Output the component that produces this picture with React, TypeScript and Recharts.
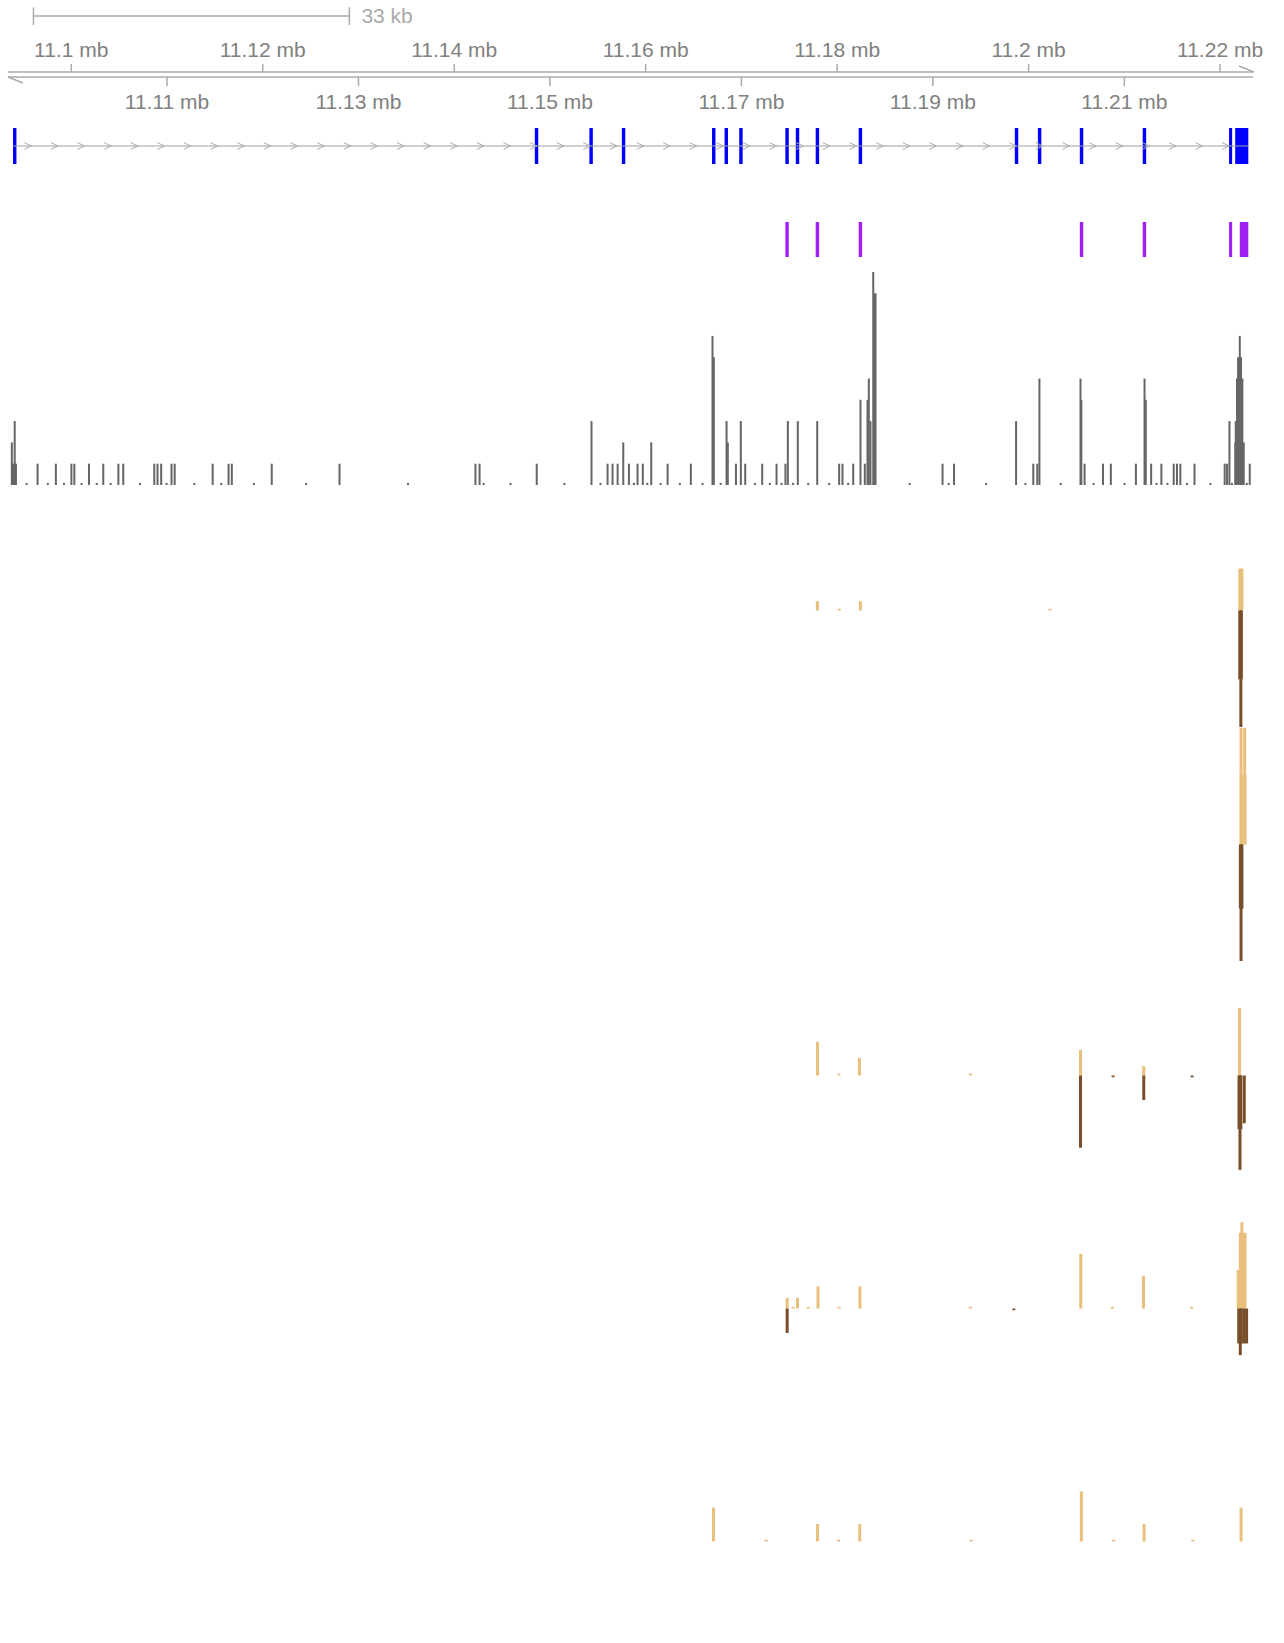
import React from 'react';
import {
  BarChart,
  Bar,
  ComposedChart,
  XAxis,
  YAxis,
  ReferenceArea,
  ReferenceLine,
} from 'recharts';

// genomic window, in kb
const VIEW: [number, number] = [11093.39, 11223.44];
const PAGE_W = 1284;
const PAGE_H = 1643;
const MARGIN = { top: 0, right: 31, bottom: 0, left: 8 };
const FONT = "'Liberation Sans', Arial, Helvetica, sans-serif";

const TAN = '#E8C07C';
const BROWN = '#784E2A';
const GRID_GREY = '#aaaaaa';

const topTicks = [11100, 11120, 11140, 11160, 11180, 11200, 11220];
const bottomTicks = [11110, 11130, 11150, 11170, 11190, 11210];

const scaleBarStart = 11096.05;
const scaleBarKb = 33;

// gene model (blue) and coding blocks (purple)
const exonStart = [
  11093.91, 11148.42, 11154.12, 11157.51, 11166.93, 11168.24, 11169.77, 11174.59, 11175.68,
  11177.76, 11182.25, 11198.56, 11200.97, 11205.35, 11211.92, 11220.94, 11221.58,
];
const exonEnd = [
  11094.27, 11148.78, 11154.48, 11157.87, 11167.29, 11168.6, 11170.13, 11174.95, 11176.04,
  11178.12, 11182.61, 11198.92, 11201.33, 11205.71, 11212.28, 11221.26, 11222.95,
];
const cdsStart = [11174.59, 11177.76, 11182.25, 11205.35, 11211.92, 11220.94, 11222.06];
const cdsEnd = [11174.95, 11178.12, 11182.61, 11205.71, 11212.28, 11221.26, 11222.95];

// read coverage
const covPos = [
  11093.79, 11093.92, 11094.09, 11094.22, 11095.33, 11096.48, 11097.55, 11098.39, 11099.24, 11100.01,
  11100.32, 11101.08, 11101.85, 11102.66, 11103.34, 11104.11, 11104.92, 11105.43, 11107.18, 11108.67,
  11109.01, 11109.39, 11109.95, 11110.47, 11110.8, 11112.85, 11114.77, 11115.67, 11116.43, 11116.77,
  11119.07, 11120.94, 11124.53, 11128.02, 11135.18, 11142.22, 11142.65, 11143.07, 11145.88, 11148.62,
  11151.51, 11154.34, 11155.28, 11156.02, 11156.54, 11157.07, 11157.66, 11158.25, 11158.77, 11159.15,
  11159.7, 11160.16, 11160.58, 11161.55, 11162.29, 11163.57, 11164.72, 11165.94, 11166.98, 11167.12,
  11167.83, 11168.45, 11168.58, 11169.43, 11169.94, 11170.4, 11171.41, 11172.17, 11172.97, 11173.67,
  11174.19, 11174.6, 11174.85, 11175.4, 11175.89, 11176.98, 11177.92, 11179.17, 11180.21, 11180.56,
  11181.15, 11181.68, 11182.44, 11182.89, 11183.17, 11183.31, 11183.48, 11183.77, 11183.86, 11184.01,
  11187.58, 11191.01, 11191.65, 11192.21, 11195.56, 11198.69, 11199.67, 11200.49, 11200.91, 11201.13,
  11203.36, 11205.42, 11205.51, 11205.85, 11206.79, 11207.77, 11208.59, 11210.01, 11211.21, 11212.11,
  11212.24, 11212.8, 11213.36, 11213.87, 11214.5, 11215.16, 11215.5, 11215.85, 11216.55, 11217.33,
  11218.99, 11220.48, 11220.73, 11220.98, 11221.24, 11221.59, 11221.64, 11221.77, 11221.88, 11222.06,
  11222.19, 11222.33, 11222.47, 11222.79, 11223.1,
];
const covDepth = [
  2, 1, 3, 1, 0.1, 1, 0.1, 1, 0.1, 1,
  1, 0.1, 1, 0.1, 1, 0.1, 1, 1, 0.1, 1,
  1, 1, 0.1, 1, 1, 0.1, 1, 0.1, 1, 1,
  0.1, 1, 0.1, 1, 0.1, 1, 1, 0.1, 0.1, 1,
  0.1, 3, 0.1, 1, 1, 1, 2, 1, 0.1, 1,
  1, 0.1, 2, 0.1, 1, 0.1, 1, 0.1, 7, 6,
  0.1, 3, 2, 1, 3, 1, 0.1, 1, 0.1, 1,
  0.1, 1, 3, 0.1, 3, 0.1, 3, 0.1, 1, 1,
  0.1, 1, 4, 1, 4, 5, 3, 10, 9, 9,
  0.1, 1, 0.1, 1, 0.1, 3, 0.1, 1, 1, 5,
  0.1, 5, 4, 1, 0.1, 1, 1, 0.1, 1, 5,
  4, 1, 0.1, 1, 0.1, 1, 1, 1, 0.1, 1,
  0.1, 1, 1, 3, 0.1, 2, 3, 5, 6, 7,
  6, 5, 2, 0.1, 1,
];

// strand-split signal tracks (plus up, minus down)
const sashAPos = [11177.94, 11180.24, 11182.43, 11202.24, 11222.06, 11222.17, 11222.22, 11222.28];
const sashAPlus = [8, 1.5, 8, 1.5, 36, 0, 0, 36];
const sashAMinus = [0, 0, 0, 0, -59, -100, -59, 0];

const sashBPos = [11222.12, 11222.19, 11222.22, 11222.28, 11222.57, 11222.61];
const sashBPlus = [0, 100, 60, 0, 100, 60];
const sashBMinus = [-55, -100, 0, -55, 0, 0];

const sashCPos = [
  11177.95, 11180.18, 11182.33, 11193.92, 11205.42, 11208.82, 11212.03, 11217.08, 11221.98,
  11222.04, 11222.08, 11222.17, 11222.53,
];
const sashCPlus = [29, 1.5, 15, 1.5, 22, 0, 8, 0, 0, 58, 0, 0, 0];
const sashCMinus = [0, 0, 0, 0, -62, -1.5, -21, -1.5, -46, 0, -81, -46, -41];

const sashDPos = [
  11174.78, 11175.4, 11175.86, 11176.98, 11178.0, 11180.21, 11182.38, 11193.92, 11198.46,
  11205.45, 11208.75, 11212.0, 11217.02, 11221.89, 11221.95, 11222.11, 11222.22, 11222.28,
  11222.39, 11222.5, 11222.61, 11222.77,
];
const sashDPlus = [9, 1.5, 9, 1.5, 19, 1.5, 19, 1.5, 0, 47, 1.5, 28, 1.5, 33, 0, 65, 0, 74, 65, 0, 65, 0];
const sashDMinus = [-21, 0, 0, 0, 0, 0, 0, 0, -1.5, 0, 0, 0, 0, 0, -30, -40, -30, 0, 0, -30, 0, -30];

const sashEPos = [
  11167.07, 11172.58, 11177.94, 11180.13, 11182.35, 11193.98, 11205.5, 11208.87, 11212.05,
  11217.13, 11222.18,
];
const sashEPlus = [29, 1.5, 15, 1.5, 15, 1.5, 43, 1.5, 15, 1.5, 29];
const sashEMinus = [0, 0, 0, 0, 0, 0, 0, 0, 0, 0, 0];

const TRACK_H = 233;
const sashBaselines = [610.7, 844, 1075.7, 1308.5, 1541];

const toMb = (v: number) => `${v / 1000} mb`;

// bars keep a fixed pixel width, centred on the position the scale gives them
const thinBar = (w: number) => (p: any) => {
  const { x, y, width, height, fill } = p;
  if (!height || x == null || y == null) return <g />;
  const cx = x + (width || 0) / 2;
  const top = Math.min(y, y + height);
  return <rect x={cx - w / 2} y={top} width={w} height={Math.abs(height)} fill={fill} />;
};

function GenomeAxis() {
  return (
    <ComposedChart width={PAGE_W} height={120} margin={MARGIN} data={[{ x: VIEW[0], y: 0 }]}>
      <XAxis
        xAxisId="top"
        orientation="top"
        type="number"
        dataKey="x"
        domain={VIEW}
        allowDataOverflow
        ticks={topTicks}
        interval={0}
        height={72}
        tickSize={8}
        tickMargin={7}
        tickFormatter={toMb}
        axisLine={{ stroke: GRID_GREY, strokeWidth: 1.5 }}
        tickLine={{ stroke: GRID_GREY, strokeWidth: 1.5 }}
        tick={{ fill: '#808080', fontSize: 21 }}
      />
      <XAxis
        xAxisId="bottom"
        orientation="bottom"
        type="number"
        dataKey="x"
        domain={VIEW}
        allowDataOverflow
        ticks={bottomTicks}
        interval={0}
        height={43}
        tickSize={9}
        tickMargin={8}
        tickFormatter={toMb}
        axisLine={{ stroke: GRID_GREY, strokeWidth: 1.5 }}
        tickLine={{ stroke: GRID_GREY, strokeWidth: 1.5 }}
        tick={{ fill: '#808080', fontSize: 21 }}
      />
      <YAxis hide domain={[0, 1]} allowDataOverflow />
    </ComposedChart>
  );
}

function ScaleBar() {
  const end = scaleBarStart + scaleBarKb;
  const line = { stroke: GRID_GREY, strokeWidth: 1.5 };
  return (
    <ComposedChart width={PAGE_W} height={32} margin={MARGIN} data={[{ x: VIEW[0], y: 0 }]}>
      <XAxis hide type="number" dataKey="x" domain={VIEW} allowDataOverflow />
      <YAxis hide type="number" domain={[0, 1]} allowDataOverflow />
      <ReferenceLine
        segment={[{ x: scaleBarStart, y: 0.5 }, { x: end, y: 0.5 }]}
        {...line}
        label={{ value: `${scaleBarKb} kb`, position: 'right', offset: 12, fill: '#aaaaaa', fontSize: 21 }}
      />
      <ReferenceLine segment={[{ x: scaleBarStart, y: 0.22 }, { x: scaleBarStart, y: 0.77 }]} {...line} />
      <ReferenceLine segment={[{ x: end, y: 0.22 }, { x: end, y: 0.77 }]} {...line} />
    </ComposedChart>
  );
}

function IntronShape(props: any) {
  const { x1, y1, x2 } = props;
  const marks = [];
  for (let x = x1 + 14.8; x < x2 - 4; x += 26.62) {
    marks.push(
      <polyline
        key={x}
        points={`${x - 3.5},${y1 - 3.4} ${x + 3.5},${y1} ${x - 3.5},${y1 + 3.4}`}
        fill="none"
        stroke={GRID_GREY}
        strokeWidth={1}
      />
    );
  }
  return (
    <g>
      <line x1={x1} y1={y1} x2={x2} y2={y1} stroke="#a0a0a0" strokeWidth={1.2} />
      {marks}
    </g>
  );
}

function GeneTrack() {
  const last = exonEnd.length - 1;
  return (
    <ComposedChart width={PAGE_W} height={36} margin={MARGIN} data={[{ x: VIEW[0], y: 0 }]}>
      <XAxis hide type="number" dataKey="x" domain={VIEW} allowDataOverflow />
      <YAxis hide type="number" domain={[0, 1]} allowDataOverflow />
      <ReferenceLine
        segment={[{ x: exonStart[0], y: 0.5 }, { x: exonEnd[last], y: 0.5 }]}
        shape={IntronShape}
      />
      {exonStart.map((s, i) => (
        <ReferenceArea key={i} x1={s} x2={exonEnd[i]} y1={0} y2={1} fill="#0000ff" fillOpacity={1} stroke="none" />
      ))}
    </ComposedChart>
  );
}

function CdsTrack() {
  return (
    <ComposedChart width={PAGE_W} height={35} margin={MARGIN} data={[{ x: VIEW[0], y: 0 }]}>
      <XAxis hide type="number" dataKey="x" domain={VIEW} allowDataOverflow />
      <YAxis hide type="number" domain={[0, 1]} allowDataOverflow />
      {cdsStart.map((s, i) => (
        <ReferenceArea key={i} x1={s} x2={cdsEnd[i]} y1={0} y2={1} fill="#a020f0" fillOpacity={1} stroke="none" />
      ))}
    </ComposedChart>
  );
}

function CoverageTrack() {
  const rows = covPos.map((x, i) => ({ x, depth: covDepth[i] }));
  return (
    <BarChart width={PAGE_W} height={213} margin={MARGIN} data={rows}>
      <XAxis hide type="number" dataKey="x" domain={VIEW} allowDataOverflow />
      <YAxis hide domain={[0, 10]} allowDataOverflow />
      <Bar dataKey="depth" fill="#666666" shape={thinBar(2)} isAnimationActive={false} />
    </BarChart>
  );
}

function SignalTrack({ height, pos, plus, minus }: { height: number; pos: number[]; plus: number[]; minus: number[] }) {
  const rows = pos.map((x, i) => ({ x, plus: plus[i], minus: minus[i] }));
  const half = TRACK_H / 2;
  const lo = -((height - half) / half) * 100;
  return (
    <BarChart width={PAGE_W} height={height} margin={MARGIN} data={rows} stackOffset="sign">
      <XAxis hide type="number" dataKey="x" domain={VIEW} allowDataOverflow />
      <YAxis hide domain={[lo, 100]} allowDataOverflow />
      <Bar dataKey="plus" stackId="s" fill={TAN} shape={thinBar(3)} isAnimationActive={false} />
      <Bar dataKey="minus" stackId="s" fill={BROWN} shape={thinBar(3)} isAnimationActive={false} />
    </BarChart>
  );
}

const at = (top: number): React.CSSProperties => ({ position: 'absolute', left: 0, top });

export default function App() {
  const tracks = [
    { pos: sashAPos, plus: sashAPlus, minus: sashAMinus },
    { pos: sashBPos, plus: sashBPlus, minus: sashBMinus },
    { pos: sashCPos, plus: sashCPlus, minus: sashCMinus },
    { pos: sashDPos, plus: sashDPlus, minus: sashDMinus },
    { pos: sashEPos, plus: sashEPlus, minus: sashEMinus },
  ];
  return (
    <div
      style={{
        position: 'absolute',
        left: 0,
        top: 0,
        width: PAGE_W,
        height: PAGE_H,
        overflow: 'hidden',
        background: '#fff',
        fontFamily: FONT,
      }}
    >
      <div style={at(0)}>
        <ScaleBar />
      </div>
      <div style={at(0)}>
        <GenomeAxis />
      </div>
      {/* half arrowheads on the strand axis */}
      <svg style={at(0)} width={PAGE_W} height={120}>
        <line x1={1239} y1={66} x2={1254} y2={72} stroke={GRID_GREY} strokeWidth={1.5} />
        <line x1={8} y1={77} x2={23} y2={83} stroke={GRID_GREY} strokeWidth={1.5} />
      </svg>
      <div style={at(128)}>
        <GeneTrack />
      </div>
      <div style={at(222)}>
        <CdsTrack />
      </div>
      <div style={at(272)}>
        <CoverageTrack />
      </div>
      {tracks.map((t, i) => {
        const top = sashBaselines[i] - TRACK_H / 2;
        const height = Math.min(TRACK_H, PAGE_H - top);
        return (
          <div key={i} style={at(top)}>
            <SignalTrack height={height} pos={t.pos} plus={t.plus} minus={t.minus} />
          </div>
        );
      })}
    </div>
  );
}
